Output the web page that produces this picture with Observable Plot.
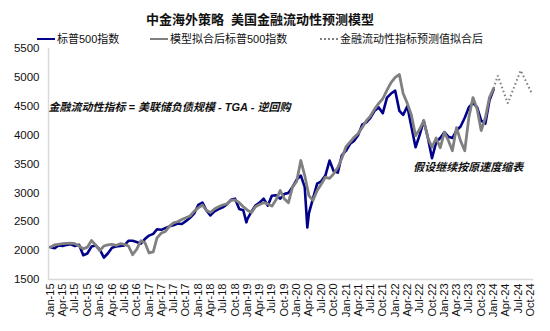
<!DOCTYPE html>
<html><head><meta charset="utf-8">
<script src="https://cdn.jsdelivr.net/npm/d3@7"></script>
<script src="https://cdn.jsdelivr.net/npm/@observablehq/plot@0.6"></script>
<style>
body{margin:0;background:#fff;font-family:"Liberation Sans",Arial,"Noto Sans CJK SC",sans-serif;color:#111;}
#wrap{position:relative;width:550px;height:331px;overflow:hidden;}
#title{position:absolute;left:0;top:12px;width:520px;text-align:center;font-weight:bold;font-size:13px;line-height:15px;font-family:"Liberation Sans","Noto Sans CJK SC",sans-serif;}
.lg{position:absolute;top:32px;font-size:11px;line-height:14px;white-space:nowrap;font-family:"Liberation Sans","Noto Sans CJK SC",sans-serif;}
.sw{display:inline-block;width:18px;height:0;vertical-align:middle;margin-right:2px;position:relative;top:-1px;}
#chart{position:absolute;left:0;top:0;}
</style>
</head><body>
<div id="wrap">
<div id="chart"></div>
<div id="title">中金海外策略&nbsp;&nbsp;美国金融流动性预测模型</div>
<div id="legend"></div>
</div>
<script>
// ---- data ----
const seriesNames = ["标普500指数", "模型拟合后标普500指数", "金融流动性指标预测值拟合后"];
const titleText = "中金海外策略  美国金融流动性预测模型";
const noteFormula = "金融流动性指标 = 美联储负债规模 - TGA - 逆回购";
const noteTaper = "假设继续按原速度缩表";
// monthly values, Jan-15 .. Jan-24
const spValues = [
  2060, 2040, 2090, 2080, 2100, 2110, 2080, 2100, 1920, 1950, 2070, 2090,
  2020, 1880, 1950, 2050, 2070, 2080, 2090, 2170, 2170, 2150, 2120, 2200,
  2260, 2290, 2370, 2360, 2390, 2420, 2440, 2470, 2460, 2510, 2570, 2640,
  2790, 2830, 2700, 2610, 2680, 2720, 2750, 2800, 2880, 2900, 2720, 2700,
  2550, 2680, 2780, 2830, 2900, 2780, 2950, 2960, 2900, 2980, 3000, 3100,
  3230, 3300, 3100, 2650, 2900, 3160, 3200, 3300, 3560, 3380, 3350, 3650,
  3730, 3850, 3900, 4000, 4180, 4220, 4300, 4420, 4480, 4380, 4650, 4720,
  4770, 4420, 4350, 4500, 4150, 3790, 4000, 4250, 3950, 3600, 3880, 3950,
  4050, 3970, 3950, 4080, 4150, 4300, 4480, 4560, 4480, 4250, 4200, 4600, 4790
];
const spExtraDates = ["2018-12-24", "2020-03-20"];
const spExtraValues = [2490, 2400];
const modelValues = [
  2060, 2100, 2110, 2120, 2125, 2130, 2120, 2080, 2030, 2060, 2175, 2100,
  2000, 2080, 2100, 2110, 2090, 2120, 2110, 2080, 1930, 2020, 2170, 2140,
  1960, 1980, 2220, 2300, 2330, 2420, 2480, 2500, 2540, 2570, 2600, 2680,
  2740, 2790, 2700, 2660, 2720, 2760, 2790, 2810, 2870, 2880, 2830, 2760,
  2700, 2660, 2760, 2800, 2830, 2810, 2770, 2880, 3040, 2900, 2830, 3100,
  3200, 3560, 3300, 2950, 2870, 3040, 3150, 3270, 3250, 3330, 3440, 3600,
  3800, 3880, 3960, 4030, 4130, 4250, 4330, 4450, 4550, 4630, 4780, 4910,
  5000, 5050, 4720, 4550, 4350, 3990, 4100, 4250, 3950, 3790, 3950, 3780,
  4050, 3900, 3730, 4130, 3900, 3730, 4300, 4650, 4450, 4080, 4300, 4650, 4810
];
const projDates = ["2024-01-01", "2024-02-01", "2024-04-15", "2024-07-20", "2024-10-15"];
const projValues = [4810, 5030, 4550, 5120, 4700];
const yTicks = [1500, 2000, 2500, 3000, 3500, 4000, 4500, 5000, 5500];
const xDomain = [new Date("2014-12-17"), new Date("2024-10-23")];
const xTicks = d3.utcMonth.every(3).range(new Date("2015-01-01"), new Date("2024-10-02"));
const noteFormulaPos = {date: new Date("2014-12-17"), value: 4475};
const noteTaperPos = {date: new Date("2023-06-27"), value: 3440};

const colors = ["#00008B", "#808080", "#808080"];

// ---- build tables ----
const months = d3.utcMonth.range(new Date("2015-01-01"), new Date("2024-02-01"));
const sp = months.map((d, i) => ({date: d, value: spValues[i]}))
  .concat(spExtraDates.map((d, i) => ({date: new Date(d), value: spExtraValues[i]})))
  .sort((a, b) => a.date - b.date);
const model = months.map((d, i) => ({date: d, value: modelValues[i]}));
const proj = projDates.map((d, i) => ({date: new Date(d), value: projValues[i]}));

const fmt = d3.utcFormat("%b-%y");

const chart = Plot.plot({
  width: 550,
  height: 331,
  marginTop: 48,
  marginBottom: 52,
  marginLeft: 48,
  marginRight: 17,
  style: {fontFamily: "'Liberation Sans', Arial, 'Noto Sans CJK SC', sans-serif", fontSize: "11px", color: "#111", background: "#fff"},
  x: {type: "utc", domain: xDomain},
  y: {domain: [1500, 5500]},
  marks: [
    Plot.ruleY([1500], {stroke: "#d9d9d9", strokeWidth: 1.5}),
    Plot.ruleX([xDomain[0]], {stroke: "#d9d9d9", strokeWidth: 1.5}),
    Plot.line(sp, {x: "date", y: "value", stroke: colors[0], strokeWidth: 2.6, strokeLinejoin: "round"}),
    Plot.line(model, {x: "date", y: "value", stroke: colors[1], strokeWidth: 2.8, strokeLinejoin: "round"}),
    Plot.line(proj, {x: "date", y: "value", stroke: colors[2], strokeWidth: 2, strokeLinecap: "butt", strokeLinejoin: "miter", strokeDasharray: "1.6,2.6"}),
    Plot.text([noteFormulaPos], {x: "date", y: "value", text: () => noteFormula, textAnchor: "start", fontStyle: "italic", fontWeight: "bold", fontSize: 11, fill: "#111"}),
    Plot.text([noteTaperPos], {x: "date", y: "value", text: () => noteTaper, textAnchor: "middle", fontStyle: "italic", fontWeight: "bold", fontSize: 11, fill: "#111"}),
    Plot.axisY({ticks: yTicks, tickFormat: d => String(d), tickSize: 0, tickPadding: 9, label: null, fontSize: 11.5}),
    Plot.axisX({ticks: xTicks, tickFormat: fmt, tickRotate: -90, tickSize: 0, tickPadding: 4, label: null, fontSize: 11})
  ]
});
document.getElementById("chart").appendChild(chart);

// ---- legend ----
const legendPos = [37, 150, 320];
const legend = document.getElementById("legend");
seriesNames.forEach((name, i) => {
  const div = document.createElement("div");
  div.className = "lg";
  div.style.left = legendPos[i] + "px";
  const sw = document.createElement("span");
  sw.className = "sw";
  if (i === 2) sw.style.borderTop = "2px dotted " + colors[i];
  else sw.style.borderTop = "2.5px solid " + colors[i];
  div.appendChild(sw);
  div.appendChild(document.createTextNode(name));
  legend.appendChild(div);
});
</script>
</body></html>
